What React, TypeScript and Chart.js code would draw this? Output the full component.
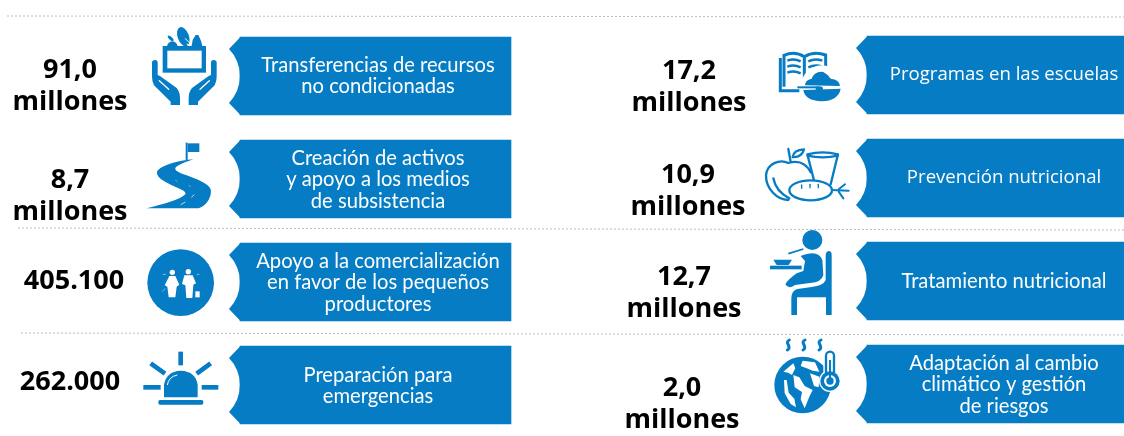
import React, { useEffect, useRef } from "react";
import { Chart, registerables } from "chart.js";

Chart.register(...registerables);

// ---- content ----
const figuresLeft: string[][] = [["91,0", "millones"], ["8,7", "millones"], ["405.100"], ["262.000"]];
const figuresRight: string[][] = [["17,2", "millones"], ["10,9", "millones"], ["12,7", "millones"], ["2,0", "millones"]];
const programmesLeft: string[][] = [
  ["Transferencias de recursos", "no condicionadas"],
  ["Creación de activos", "y apoyo a los medios", "de subsistencia"],
  ["Apoyo a la comercialización", "en favor de los pequeños", "productores"],
  ["Preparación para", "emergencias"],
];
const programmesRight: string[][] = [
  ["Programas en las escuelas"],
  ["Prevención nutricional"],
  ["Tratamiento nutricional"],
  ["Adaptación al cambio", "climático y gestión", "de riesgos"],
];

// ---- layout on the hidden scales ----
const W = 1124;
const H = 436;
const BLUE = "#057cc3";
const bannerLeftX: [number, number] = [240, 511];
const bannerRightX: [number, number] = [867, 1124];
const bannerLeftY = [76, 179, 282, 385];
const bannerRightY = [75, 178, 281, 384];
const figureLeftX = [70, 70, 74, 70];
const figureRightX = [689, 688, 684, 682];
const figureLeftY = [70, 180, 281, 382];
const figureRightY = [71, 175, 277, 388];
const programmeLeftY = [65, 158, 261, 375];
const programmeRightY = [75, 178, 281, 363];
const programmeLeftCx = 378;
const programmeRightCx = 1004;
const dividers = [
  [7, 16, 1124, 17],
  [18, 228, 1124, 230],
  [21, 333, 1124, 335],
];

type C = CanvasRenderingContext2D;

function poly(c: C, pts: number[]) {
  c.beginPath();
  c.moveTo(pts[0], pts[1]);
  for (let i = 2; i < pts.length; i += 2) c.lineTo(pts[i], pts[i + 1]);
  c.closePath();
  c.fill();
}
function seg(c: C, ...pts: number[]) {
  c.beginPath();
  c.moveTo(pts[0], pts[1]);
  for (let i = 2; i < pts.length; i += 2) c.lineTo(pts[i], pts[i + 1]);
  c.stroke();
}
function disc(c: C, x: number, y: number, r: number) {
  c.beginPath();
  c.arc(x, y, r, 0, Math.PI * 2);
  c.fill();
}

function iconHands(c: C) {
  c.fillStyle = BLUE;
  c.fillRect(68, 78, 130, 80);
  c.fillStyle = "#fff";
  c.fillRect(82, 92, 103, 53);
  c.fillStyle = BLUE;
  // groceries
  c.beginPath();
  c.ellipse(130, 50, 17, 30, -0.35, 0, Math.PI * 2);
  c.fill();
  poly(c, [155, 78, 158, 60, 167, 45, 175, 45, 183, 62, 187, 78]);
  c.beginPath();
  c.arc(97, 80, 16, Math.PI, 0);
  c.fill();
  c.beginPath();
  c.ellipse(92, 55, 5, 11, -0.8, 0, Math.PI * 2);
  c.fill();
  c.strokeStyle = "#fff";
  c.lineWidth = 3;
  seg(c, 135, 55, 152, 72);
  seg(c, 140, 72, 152, 76);
  // hands
  for (const m of [0, 1]) {
    c.save();
    if (m) {
      c.translate(266, 0);
      c.scale(-1, 1);
    }
    c.fillStyle = BLUE;
    c.beginPath();
    c.moveTo(36, 128);
    c.quadraticCurveTo(36, 120, 45, 120);
    c.quadraticCurveTo(53, 120, 53, 128);
    c.lineTo(53, 165);
    c.lineTo(60, 168);
    c.lineTo(110, 204);
    c.quadraticCurveTo(120, 216, 120, 235);
    c.lineTo(120, 255);
    c.lineTo(92, 255);
    c.lineTo(92, 245);
    c.lineTo(42, 196);
    c.quadraticCurveTo(36, 185, 36, 170);
    c.closePath();
    c.fill();
    c.strokeStyle = "#fff";
    c.lineWidth = 4;
    c.lineCap = "round";
    seg(c, 58, 182, 86, 208);
    c.restore();
  }
}

function iconRoad(c: C) {
  c.fillStyle = BLUE;
  c.fillRect(137, 38, 6, 52);
  poly(c, [143, 40, 178, 40, 178, 66, 143, 66]);
  c.beginPath();
  c.moveTo(160, 88);
  c.bezierCurveTo(120, 92, 75, 100, 52, 122);
  c.bezierCurveTo(45, 142, 75, 155, 105, 170);
  c.bezierCurveTo(125, 178, 140, 185, 136, 193);
  c.bezierCurveTo(120, 210, 70, 222, 20, 235);
  c.lineTo(176, 235);
  c.bezierCurveTo(205, 225, 216, 195, 212, 178);
  c.bezierCurveTo(205, 160, 170, 148, 140, 136);
  c.bezierCurveTo(115, 128, 95, 118, 112, 108);
  c.quadraticCurveTo(130, 98, 160, 88);
  c.closePath();
  c.fill();
  c.strokeStyle = "#dff0fa";
  c.lineWidth = 2.5;
  seg(c, 122, 224, 136, 216);
  seg(c, 154, 202, 163, 194);
  c.lineWidth = 1.5;
  seg(c, 146, 166, 152, 170);
  seg(c, 106, 150, 112, 155);
}

function iconPeople(c: C) {
  c.fillStyle = BLUE;
  disc(c, 122, 128, 100);
  c.fillStyle = "#fff";
  disc(c, 97, 97, 8);
  poly(c, [88, 108, 106, 108, 118, 134, 110, 140, 106, 172, 86, 172, 82, 140, 74, 136]);
  disc(c, 145, 95, 8);
  poly(c, [133, 106, 158, 106, 168, 130, 160, 134, 157, 174, 139, 174, 136, 136, 126, 132]);
  c.fillRect(166, 154, 13, 18);
  c.strokeStyle = "#fff";
  c.lineWidth = 1.5;
  seg(c, 68, 103, 78, 103);
  seg(c, 170, 103, 178, 103);
  seg(c, 66, 155, 76, 145);
}

function iconAlarm(c: C) {
  c.fillStyle = BLUE;
  c.strokeStyle = BLUE;
  c.lineWidth = 14;
  seg(c, 122, 35, 122, 76);
  seg(c, 32, 70, 75, 101);
  seg(c, 170, 101, 212, 70);
  seg(c, 10, 142, 62, 142);
  seg(c, 185, 142, 235, 142);
  c.beginPath();
  c.moveTo(72, 172);
  c.lineTo(72, 135);
  c.quadraticCurveTo(78, 94, 122, 92);
  c.quadraticCurveTo(168, 94, 173, 135);
  c.lineTo(173, 172);
  c.closePath();
  c.fill();
  c.strokeStyle = "#fff";
  c.lineWidth = 3;
  c.beginPath();
  c.moveTo(82, 135);
  c.quadraticCurveTo(86, 110, 112, 105);
  c.stroke();
  c.fillStyle = BLUE;
  c.beginPath();
  c.roundRect(55, 180, 135, 14, 5);
  c.fill();
}

function iconBook(c: C) {
  c.strokeStyle = BLUE;
  c.fillStyle = BLUE;
  c.lineWidth = 9;
  c.beginPath();
  c.moveTo(72, 170);
  c.lineTo(72, 76);
  c.quadraticCurveTo(104, 62, 133, 80);
  c.lineTo(133, 160);
  c.moveTo(133, 80);
  c.quadraticCurveTo(162, 62, 197, 75);
  c.lineTo(197, 140);
  c.stroke();
  c.beginPath();
  c.moveTo(61, 84);
  c.lineTo(61, 182);
  c.lineTo(118, 182);
  c.stroke();
  c.lineWidth = 7;
  for (const y of [92, 110, 128]) {
    c.beginPath();
    c.moveTo(82, y);
    c.quadraticCurveTo(102, y - 8, 122, y + 2);
    c.stroke();
  }
  for (const y of [92, 110]) {
    c.beginPath();
    c.moveTo(145, y + 2);
    c.quadraticCurveTo(165, y - 8, 187, y);
    c.stroke();
  }
  c.beginPath();
  c.moveTo(145, 130);
  c.quadraticCurveTo(155, 124, 165, 126);
  c.stroke();
  // rice, white halo first
  c.fillStyle = "#fff";
  c.beginPath();
  c.arc(185, 168, 62, 0, Math.PI * 2);
  c.fill();
  c.fillStyle = BLUE;
  c.beginPath();
  c.moveTo(135, 166);
  c.quadraticCurveTo(135, 150, 155, 146);
  c.quadraticCurveTo(165, 122, 190, 126);
  c.quadraticCurveTo(205, 134, 212, 146);
  c.quadraticCurveTo(238, 148, 240, 168);
  c.closePath();
  c.fill();
  c.beginPath();
  c.moveTo(130, 180);
  c.quadraticCurveTo(135, 212, 185, 214);
  c.quadraticCurveTo(235, 212, 242, 176);
  c.closePath();
  c.fill();
  c.lineWidth = 6;
  c.strokeStyle = "#fff";
  seg(c, 108, 174, 192, 174);
  c.strokeStyle = BLUE;
  c.lineWidth = 6;
  seg(c, 112, 172, 175, 172);
  c.beginPath();
  c.ellipse(178, 176, 11, 7, 0, 0, Math.PI * 2);
  c.fill();
}

function iconFood(c: C) {
  c.strokeStyle = BLUE;
  c.lineWidth = 7;
  c.lineCap = "round";
  c.lineJoin = "round";
  c.beginPath();
  c.moveTo(152, 112);
  c.bezierCurveTo(135, 78, 105, 78, 85, 84);
  c.bezierCurveTo(60, 72, 20, 84, 18, 122);
  c.bezierCurveTo(18, 160, 50, 195, 85, 195);
  c.stroke();
  c.beginPath();
  c.moveTo(40, 130);
  c.quadraticCurveTo(48, 170, 88, 190);
  c.stroke();
  seg(c, 85, 42, 92, 80);
  c.beginPath();
  c.moveTo(98, 66);
  c.quadraticCurveTo(100, 45, 132, 43);
  c.quadraticCurveTo(125, 68, 98, 66);
  c.stroke();
  // cup
  c.beginPath();
  c.moveTo(142, 58);
  c.quadraticCurveTo(188, 46, 234, 58);
  c.lineTo(212, 148);
  c.moveTo(142, 58);
  c.lineTo(163, 140);
  c.moveTo(142, 62);
  c.quadraticCurveTo(188, 72, 234, 62);
  c.stroke();
  // bread
  c.fillStyle = "#fff";
  c.beginPath();
  c.ellipse(152, 166, 64, 30, 0, 0, Math.PI * 2);
  c.fill();
  c.stroke();
  c.lineWidth = 4;
  seg(c, 125, 150, 125, 160);
  seg(c, 150, 148, 150, 158);
  seg(c, 175, 148, 175, 158);
  c.lineWidth = 6;
  seg(c, 216, 165, 266, 167);
  seg(c, 236, 163, 255, 148);
  seg(c, 236, 170, 250, 190);
}

function iconChild(c: C) {
  c.fillStyle = BLUE;
  c.strokeStyle = BLUE;
  disc(c, 157, 45, 30);
  c.beginPath();
  c.moveTo(122, 93);
  c.quadraticCurveTo(175, 72, 187, 105);
  c.lineTo(190, 150);
  c.quadraticCurveTo(185, 172, 150, 174);
  c.lineTo(105, 180);
  c.quadraticCurveTo(85, 194, 76, 178);
  c.quadraticCurveTo(82, 165, 110, 145);
  c.lineTo(130, 138);
  c.lineTo(135, 108);
  c.closePath();
  c.fill();
  c.beginPath();
  c.moveTo(215, 90);
  c.quadraticCurveTo(215, 78, 206, 78);
  c.quadraticCurveTo(197, 80, 197, 92);
  c.lineTo(197, 165);
  c.quadraticCurveTo(190, 183, 150, 187);
  c.lineTo(112, 192);
  c.quadraticCurveTo(94, 198, 94, 220);
  c.lineTo(94, 270);
  c.lineTo(111, 270);
  c.lineTo(111, 217);
  c.lineTo(198, 217);
  c.lineTo(198, 270);
  c.lineTo(215, 270);
  c.closePath();
  c.fill();
  c.lineWidth = 5;
  seg(c, 85, 86, 130, 72);
  c.fillRect(30, 122, 95, 11);
  poly(c, [40, 104, 96, 104, 86, 120, 50, 120]);
}

function iconGlobe(c: C) {
  c.fillStyle = BLUE;
  c.strokeStyle = BLUE;
  disc(c, 128, 165, 85);
  c.fillStyle = "#fff";
  poly(c, [70, 125, 100, 100, 106, 115, 96, 135, 84, 128]);
  poly(c, [128, 92, 165, 97, 178, 125, 158, 122, 140, 115, 122, 108]);
  poly(c, [72, 150, 80, 150, 86, 188, 103, 206, 108, 232, 92, 222, 74, 190]);
  poly(c, [100, 135, 118, 142, 134, 168, 158, 180, 148, 200, 134, 235, 122, 208, 126, 186, 104, 172]);
  poly(c, [150, 130, 178, 140, 176, 172, 162, 168]);
  // thermometer
  c.fillStyle = "#fff";
  disc(c, 210, 153, 33);
  c.fillRect(190, 58, 40, 90);
  c.lineWidth = 7;
  c.beginPath();
  c.roundRect(198, 65, 24, 75, 12);
  c.stroke();
  c.fillStyle = BLUE;
  disc(c, 210, 153, 29);
  c.fillStyle = "#fff";
  disc(c, 210, 153, 18);
  c.fillStyle = BLUE;
  disc(c, 210, 153, 11);
  c.fillRect(207, 90, 6, 55);
  // steam
  c.lineWidth = 9;
  c.lineCap = "round";
  for (const x of [85, 132, 180]) {
    c.beginPath();
    c.moveTo(x + 3, 30);
    c.bezierCurveTo(x - 14, 38, x + 14, 50, x - 3, 60);
    c.stroke();
  }
}

const icons: [(c: C) => void, number, number][] = [
  [iconHands, 140, 20],
  [iconRoad, 140, 130],
  [iconPeople, 140, 240],
  [iconAlarm, 140, 340],
  [iconBook, 760, 30],
  [iconFood, 760, 135],
  [iconChild, 760, 225],
  [iconGlobe, 760, 330],
];

const annotationPlugin = {
  id: "infographic",
  afterDatasetsDraw(chart: any) {
    const c: C = chart.ctx;
    const xs = chart.scales.x;
    const ys = chart.scales.y;

    // notched left end of each banner
    const bars = chart.getDatasetMeta(0).data;
    c.save();
    c.fillStyle = BLUE;
    bars.forEach((el: any) => {
      const left = Math.min(el.base, el.x);
      const top = el.y - el.height / 2;
      const bot = el.y + el.height / 2;
      const inset = 12;
      const sag = 11;
      const half = el.height / 2 - inset;
      const R = (half * half + sag * sag) / (2 * sag);
      const a = Math.asin(half / R);
      c.beginPath();
      c.moveTo(left + 0.5, top);
      c.lineTo(left - sag, top + inset);
      c.arc(left - R, el.y, R, -a, a, false);
      c.lineTo(left + 0.5, bot);
      c.closePath();
      c.fill();
    });

    // figures
    c.textAlign = "center";
    c.textBaseline = "middle";
    c.fillStyle = "#000";
    c.font = '700 27px "Open Sans"';
    const drawLines = (lines: string[], cx: number, y0: number, lh: number) =>
      lines.forEach((t, i) => c.fillText(t, xs.getPixelForValue(cx), ys.getPixelForValue(y0 + i * lh)));
    figuresLeft.forEach((l, i) => drawLines(l, figureLeftX[i], figureLeftY[i], 32));
    figuresRight.forEach((l, i) => drawLines(l, figureRightX[i], figureRightY[i], 32));

    // programme names
    c.fillStyle = "#fff";
    c.font = '400 20.2px Lato';
    programmesLeft.forEach((l, i) => drawLines(l, programmeLeftCx, programmeLeftY[i], 21.7));
    programmesRight.forEach((l, i) => {
      c.font = i < 2 ? '400 18.6px "Open Sans"' : '400 20.2px Lato';
      drawLines(l, programmeRightCx, programmeRightY[i], 21.7);
    });
    c.restore();

    // pictograms, authored at 3x
    icons.forEach(([fn, ox, oy]) => {
      c.save();
      c.translate(ox, oy);
      c.scale(1 / 3, 1 / 3);
      fn(c);
      c.restore();
    });
  },
};

export default function App() {
  const ref = useRef<HTMLCanvasElement>(null);
  useEffect(() => {
    document.body.style.margin = "0";
    document.body.style.background = "#fff";
    const bannerData = [
      ...bannerLeftY.map((y) => ({ x: bannerLeftX, y })),
      ...bannerRightY.map((y) => ({ x: bannerRightX, y })),
    ];
    const chart = new Chart(ref.current as HTMLCanvasElement, {
      type: "bar",
      data: {
        datasets: [
          {
            type: "bar",
            indexAxis: "y",
            grouped: false,
            data: bannerData,
            backgroundColor: BLUE,
            borderWidth: 0,
            barThickness: 78,
          },
          ...dividers.map(([x1, y1, x2, y2]) => ({
            type: "line",
            indexAxis: "x",
            data: [
              { x: x1, y: y1 },
              { x: x2, y: y2 },
            ],
            borderColor: "#bdbdbd",
            borderWidth: 1,
            borderDash: [2, 2],
            pointRadius: 0,
            fill: false,
          })),
        ],
      } as any,
      options: {
        animation: false,
        responsive: false,
        layout: { padding: 0 },
        plugins: { legend: { display: false }, tooltip: { enabled: false } },
        scales: {
          x: { type: "linear", display: false, min: 0, max: W, offset: false },
          y: { type: "linear", display: false, min: 0, max: H, reverse: true, offset: false },
        },
      } as any,
      plugins: [annotationPlugin],
    });
    return () => chart.destroy();
  }, []);
  return (
    <canvas
      ref={ref}
      width={W}
      height={H}
      style={{ position: "absolute", left: 0, top: 0, display: "block", width: W, height: H }}
    />
  );
}
